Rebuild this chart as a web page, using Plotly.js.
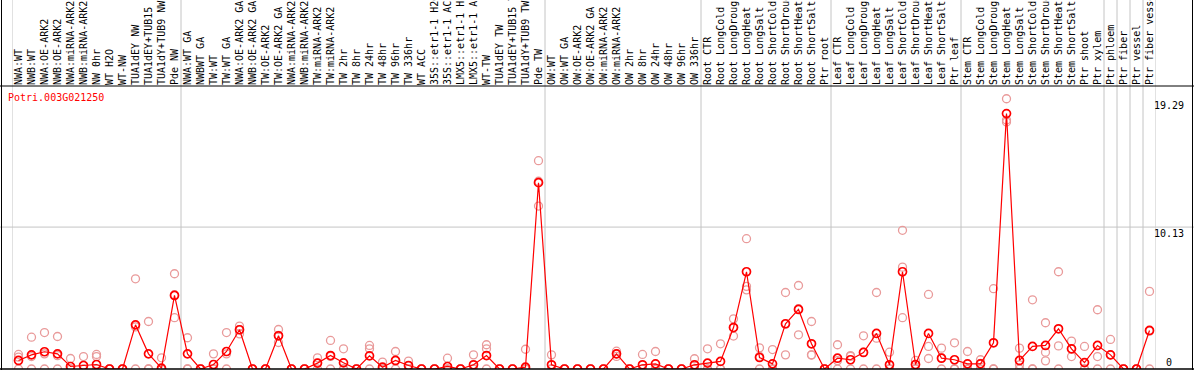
<!DOCTYPE html>
<html><head><meta charset="utf-8">
<script src="https://cdn.plot.ly/plotly-3.0.1.min.js"></script>
<style>html,body{margin:0;padding:0;background:#fff;}#chart{width:1194px;height:370px;}</style>
</head><body><div id="chart"></div>
<script>
const categories = [
"NWA:WT","NWB:WT","NWA:OE-ARK2","NWB:OE-ARK2","NWA:miRNA-ARK2","NWB:miRNA-ARK2","NW 0hr","WT H2O","WT-NW","TUA1dEY NW",
"TUA1dEY+TUB15 NW","TUA1dY+TUB9 NW","Pde NW","NWA:WT GA","NWBWT GA","TW:WT","TW:WT GA","NWA:OE-ARK2 GA","NWB:OE-ARK2 GA","TW:OE-ARK2",
"TW:OE-ARK2 GA","NWA:miRNA-ARK2 GA","NWB:miRNA-ARK2 GA","TW:miRNA-ARK2","TW:miRNA-ARK2","TW 2hr","TW 8hr","TW 24hr","TW 48hr","TW 96hr",
"TW 336hr","WT ACC","35S::etr1-1 H2O","35S::etr1-1 ACC","LMX5::etr1-1 H2O","LMX5::etr1-1 ACC","WT-TW","TUA1dEY TW","TUA1dEY+TUB15 TW","TUA1dY+TUB9 TW",
"Pde TW","OW:WT","OW:WT GA","OW:OE-ARK2","OW:OE-ARK2 GA","OW:miRNA-ARK2","OW:miRNA-ARK2","OW 2hr","OW 8hr","OW 24hr",
"OW 48hr","OW 96hr","OW 336hr","Root CTR","Root LongCold","Root LongDrought","Root LongHeat","Root LongSalt","Root ShortCold","Root ShortDrought",
"Root ShortHeat","Root ShortSalt","Ptr root","Leaf CTR","Leaf LongCold","Leaf LongDrought","Leaf LongHeat","Leaf LongSalt","Leaf ShortCold","Leaf ShortDrought",
"Leaf ShortHeat","Leaf ShortSalt","Ptr leaf","Stem CTR","Stem LongCold","Stem LongDrought","Stem LongHeat","Stem LongSalt","Stem ShortCold","Stem ShortDrought",
"Stem ShortHeat","Stem ShortSalt","Ptr shoot","Ptr xylem","Ptr phloem","Ptr fiber","Ptr vessel","Ptr fiber vessel"
];
const meanValues = [
0.61,1.01,1.23,1.08,0.18,0.25,0.32,0,0,3.15,
1.08,0.06,5.25,1.08,0,0.32,1.25,2.8,0,0,
2.37,0,0,0.42,0.96,0.44,0,0.94,0.13,0.61,
0.25,0,0,0.18,0,0.3,0.96,0,0,0.13,
13.3,0.3,0,0,0,0,1.08,0,0.3,0.37,
0,0,0.3,0.42,0.54,2.96,6.94,0.82,0.37,3.23,
4.25,1.8,0,0.77,0.66,1.18,2.54,0.3,6.94,0.32,
2.54,0.77,0.66,0.37,0.37,1.87,18.23,0.61,1.61,1.68,
2.87,1.44,0.46,1.68,1.01,0,0,2.75
];
const rep1 = [
1.04,2.27,2.6,2.32,0.75,0.89,1.04,0,0,6.44,
3.39,0.8,6.8,2.23,0,1.08,2.6,3.06,0,0,
2.82,0,0,0.8,2.04,1.44,0,1.68,0.49,1.25,
0.56,0,0,0.77,0,1.01,1.73,0,0,1.41,
14.87,1.01,0,0,0,0,1.27,0,1.04,1.25,
0,0,0.73,1.44,1.8,3.58,9.3,1.51,1.39,5.46,
5.96,3.39,0,1.73,0.96,2.37,5.46,1.2,9.9,0.61,
5.32,1.49,1.87,1.25,0.66,5.73,19.29,1.49,4.94,3.3,
6.94,1.99,1.61,4.23,2.11,0,0,5.54
];
const rep2 = [
0.85,0.89,1.08,0.95,0,0,0.89,0,0,3.0,
0,0,5.3,0,0,0,1.08,2.51,0,0,
1.89,0,0,0.42,0.9,0,0,1.44,0,0.6,
0.2,0,0,0,0,0,1.44,0,0,0,
13.4,0,0,0,0,0,1.08,0,0,0,
0,0,0,0,0,2.35,5.65,0.9,0,3.2,
4.3,1.01,0,0.6,0.9,1.2,2.2,0,7.27,0.3,
1.61,0.8,0,0,0.4,0,17.77,0.3,0,1.2,
1.65,1.44,0,0.89,1.0,0,0,2.7
];
const rep3 = [
0,0,0,0,0,0,0,0,0,0,
0,0,3.66,0,0,0,0,2.8,0,0,
2.4,0,0,0,0,0,0,0,0,0,
0,0,0,0,0,0,0,0,0,0,
11.63,0,0,0,0,0,0.9,0,0,0,
0,0,0,0,0,2.96,5.9,0,0,1.01,
2.44,1.0,0,0,0,0,0,0,3.66,0,
0.75,0,0,0,0,0,17.63,0,0,0.58,
0,0.89,0,0,0,0,0,0
];
const groupBreaks = [0.5, 13.5, 41.5, 53.5, 63.5, 73.5, 84.5, 85.5, 86.5, 87.5, 88.5];
const yTickValues = [0, 10.13, 19.29];
const geneLabel = "Potri.003G021250";

const W = 1194, H = 370;
const FONT = "DejaVu Sans Mono, Liberation Mono, monospace";
const idx = categories.map((c, i) => i + 1);
const plotTop = 86, plotBottom = 369;
const yTop = 1 - plotTop / H, yBot = 1 - plotBottom / H;

const repX = [].concat(idx, idx, idx);
const repY = [].concat(rep1, rep2, rep3);

const traces = [
  {x: repX, y: repY, type: "scatter", mode: "markers", hoverinfo: "skip",
   marker: {symbol: "circle-open", size: 8, color: "#e99a9a", line: {width: 1.3, color: "#e99a9a"}}},
  {x: idx, y: meanValues, type: "scatter", mode: "lines+markers", hoverinfo: "skip",
   line: {color: "#ff0000", width: 1.2},
   marker: {symbol: "circle-open", size: 8, color: "#ff0000", line: {width: 1.7, color: "#ff0000"}}}
];

const shapes = [];
groupBreaks.forEach(b => shapes.push({type: "line", xref: "x", yref: "paper", x0: b, x1: b, y0: yBot, y1: 1,
  line: {color: "#c4c4c4", width: 1}, layer: "below"}));
shapes.push({type: "line", xref: "paper", yref: "y", x0: 0, x1: 1, y0: yTickValues[1], y1: yTickValues[1],
  line: {color: "#c4c4c4", width: 1}, layer: "below"});
shapes.push({type: "line", xref: "paper", yref: "paper", x0: 0, x1: 1, y0: yTop, y1: yTop, line: {color: "#000", width: 1}});
shapes.push({type: "line", xref: "paper", yref: "paper", x0: 0, x1: 1, y0: yBot, y1: yBot, line: {color: "#000", width: 1.5}});
shapes.push({type: "line", xref: "paper", yref: "paper", x0: 1.5/W, x1: 1.5/W, y0: 0, y1: 1, line: {color: "#000", width: 1}});
shapes.push({type: "line", xref: "paper", yref: "paper", x0: 1 - 1.5/W, x1: 1 - 1.5/W, y0: 0, y1: 1, line: {color: "#000", width: 1}});

const annotations = [];
yTickValues.forEach(v => annotations.push({
  xref: "paper", yref: "y", x: 1169 / W, y: v, xanchor: "center", yanchor: v === 0 ? "bottom" : "top",
  text: String(v), showarrow: false, font: {family: FONT, size: 10, color: "#000"}, borderpad: 0
}));
annotations.push({xref: "paper", yref: "paper", x: 7 / W, y: 1 - 98 / H, xanchor: "left", yanchor: "middle",
  text: geneLabel, showarrow: false, font: {family: FONT, size: 10, color: "#ff0000"}, borderpad: 0});

const layout = {
  width: W, height: H, margin: {l: 0, r: 0, t: 0, b: 0}, paper_bgcolor: "#fff", plot_bgcolor: "#fff",
  showlegend: false,
  xaxis: {type: "linear", range: [0.5, 88.5], domain: [12 / W, 1156 / W], side: "top",
    tickmode: "array", tickvals: idx, ticktext: categories, tickangle: -90, ticks: "",
    tickfont: {family: FONT, size: 10, color: "#000"}, showgrid: false, zeroline: false, showline: false},
  yaxis: {range: [0, 20.2], domain: [yBot, yTop], showticklabels: false, showgrid: false, zeroline: false,
    showline: false, ticks: ""},
  shapes: shapes, annotations: annotations
};
Plotly.newPlot("chart", traces, layout, {staticPlot: true, displayModeBar: false});
</script></body></html>
